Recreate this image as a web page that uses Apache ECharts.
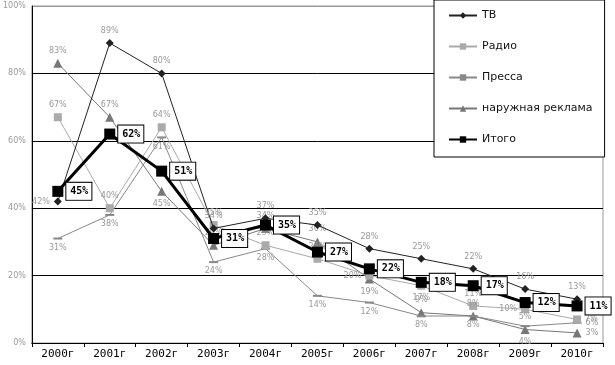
<!DOCTYPE html>
<html><head><meta charset="utf-8">
<script src="https://cdn.jsdelivr.net/npm/echarts@6/dist/echarts.min.js"></script>
<style>html,body{margin:0;padding:0;background:#fff}#c{width:615px;height:365px}</style>
</head><body><div id="c"></div>
<script>
var categories = ['2000г','2001г','2002г','2003г','2004г','2005г','2006г','2007г','2008г','2009г','2010г'];
var tv      = [42, 89, 80, 34, 37, 35, 28, 25, 22, 16, 13];
var radio   = [67, 40, 64, 35, 29, 25, 20, 17, 11, 10, 7];
var pressa  = [31, 38, 61, 24, 28, 14, 12, 8, 8, 5, 6];
var outdoor = [83, 67, 45, 29, 34, 30, 19, 9, 8, 4, 3];
var total   = [45, 62, 51, 31, 35, 27, 22, 18, 17, 12, 11];
var yTicks  = [0, 20, 40, 60, 80, 100];

// label placement overrides (style only)
var labelPos = {
  tv: {0:'left'},
  outdoor: {2:'bottom', 6:'bottom', 9:'bottom', 10:'right'},
  radio: {6:'left', 7:'bottom', 9:'left', 10:'right'},
  pressa: {9:'top', 10:'right'}
};
function withPos(arr, key){
  var m = labelPos[key] || {};
  return arr.map(function(v, i){
    return m[i] ? {value:v, label:{position:m[i]}} : v;
  });
}
var smallLabel = function(pos){
  return {show:true, position:pos, distance:4, fontSize:8, color:'#999', fontFamily:'DejaVu Sans', formatter:'{c}%'};
};
var chart = echarts.init(document.getElementById('c'), null, {renderer:'canvas'});
chart.setOption({
  animation:false,
  backgroundColor:'#fff',
  grid:{left:31, right:12, top:6, bottom:22, show:true, borderColor:'#999', borderWidth:1},
  legend:{
    orient:'vertical', left:434, top:0,
    padding:[10,12,12,14], itemGap:20, itemWidth:28, itemHeight:8,
    backgroundColor:'#fff', borderColor:'#000', borderWidth:1,
    textStyle:{fontSize:11, color:'#111', fontFamily:'DejaVu Sans'},
    data:['ТВ','Радио','Пресса','наружная реклама','Итого']
  },
  xAxis:{
    type:'category', data:categories, boundaryGap:true,
    axisLine:{lineStyle:{color:'#000', width:1}},
    axisTick:{show:true, length:4, lineStyle:{color:'#000'}},
    axisLabel:{fontSize:11, color:'#000', fontFamily:'DejaVu Sans Mono', margin:6}
  },
  yAxis:{
    type:'value', min:yTicks[0], max:yTicks[yTicks.length-1], interval:20,
    axisLine:{show:true, lineStyle:{color:'#000'}},
    axisTick:{show:false},
    axisLabel:{fontSize:8, color:'#999', fontFamily:'DejaVu Sans', formatter:'{value}%', margin:6},
    splitLine:{show:true, lineStyle:{color:['#000','#000','#000','#000','#000','#999'], width:1}}
  },
  series:[
    {name:'наружная реклама', type:'line', data:withPos(outdoor,'outdoor'), symbol:'triangle', symbolSize:9,
     itemStyle:{color:'#777'}, lineStyle:{color:'#777', width:1}, label:smallLabel('top'), z:2},
    {name:'Пресса', type:'line', data:withPos(pressa,'pressa'), symbol:'rect', symbolSize:[9,2],
     itemStyle:{color:'#888'}, lineStyle:{color:'#888', width:1}, label:smallLabel('bottom'), z:2},
    {name:'Радио', type:'line', data:withPos(radio,'radio'), symbol:'rect', symbolSize:8,
     itemStyle:{color:'#aaa'}, lineStyle:{color:'#aaa', width:1}, label:smallLabel('top'), z:2},
    {name:'ТВ', type:'line', data:withPos(tv,'tv'), symbol:'diamond', symbolSize:8,
     itemStyle:{color:'#222'}, lineStyle:{color:'#222', width:1}, label:smallLabel('top'), z:3},
    {name:'Итого', type:'line', data:total, symbol:'rect', symbolSize:11,
     itemStyle:{color:'#000'}, lineStyle:{color:'#000', width:3}, z:5,
     label:{show:true, position:'right', distance:3, formatter:'{c}%', fontSize:10, fontWeight:'bold',
       fontFamily:'DejaVu Sans Mono', color:'#000', backgroundColor:'#fff', borderColor:'#000', borderWidth:1,
       padding:[4,3,3,4]}}
  ]
});
</script></body></html>
